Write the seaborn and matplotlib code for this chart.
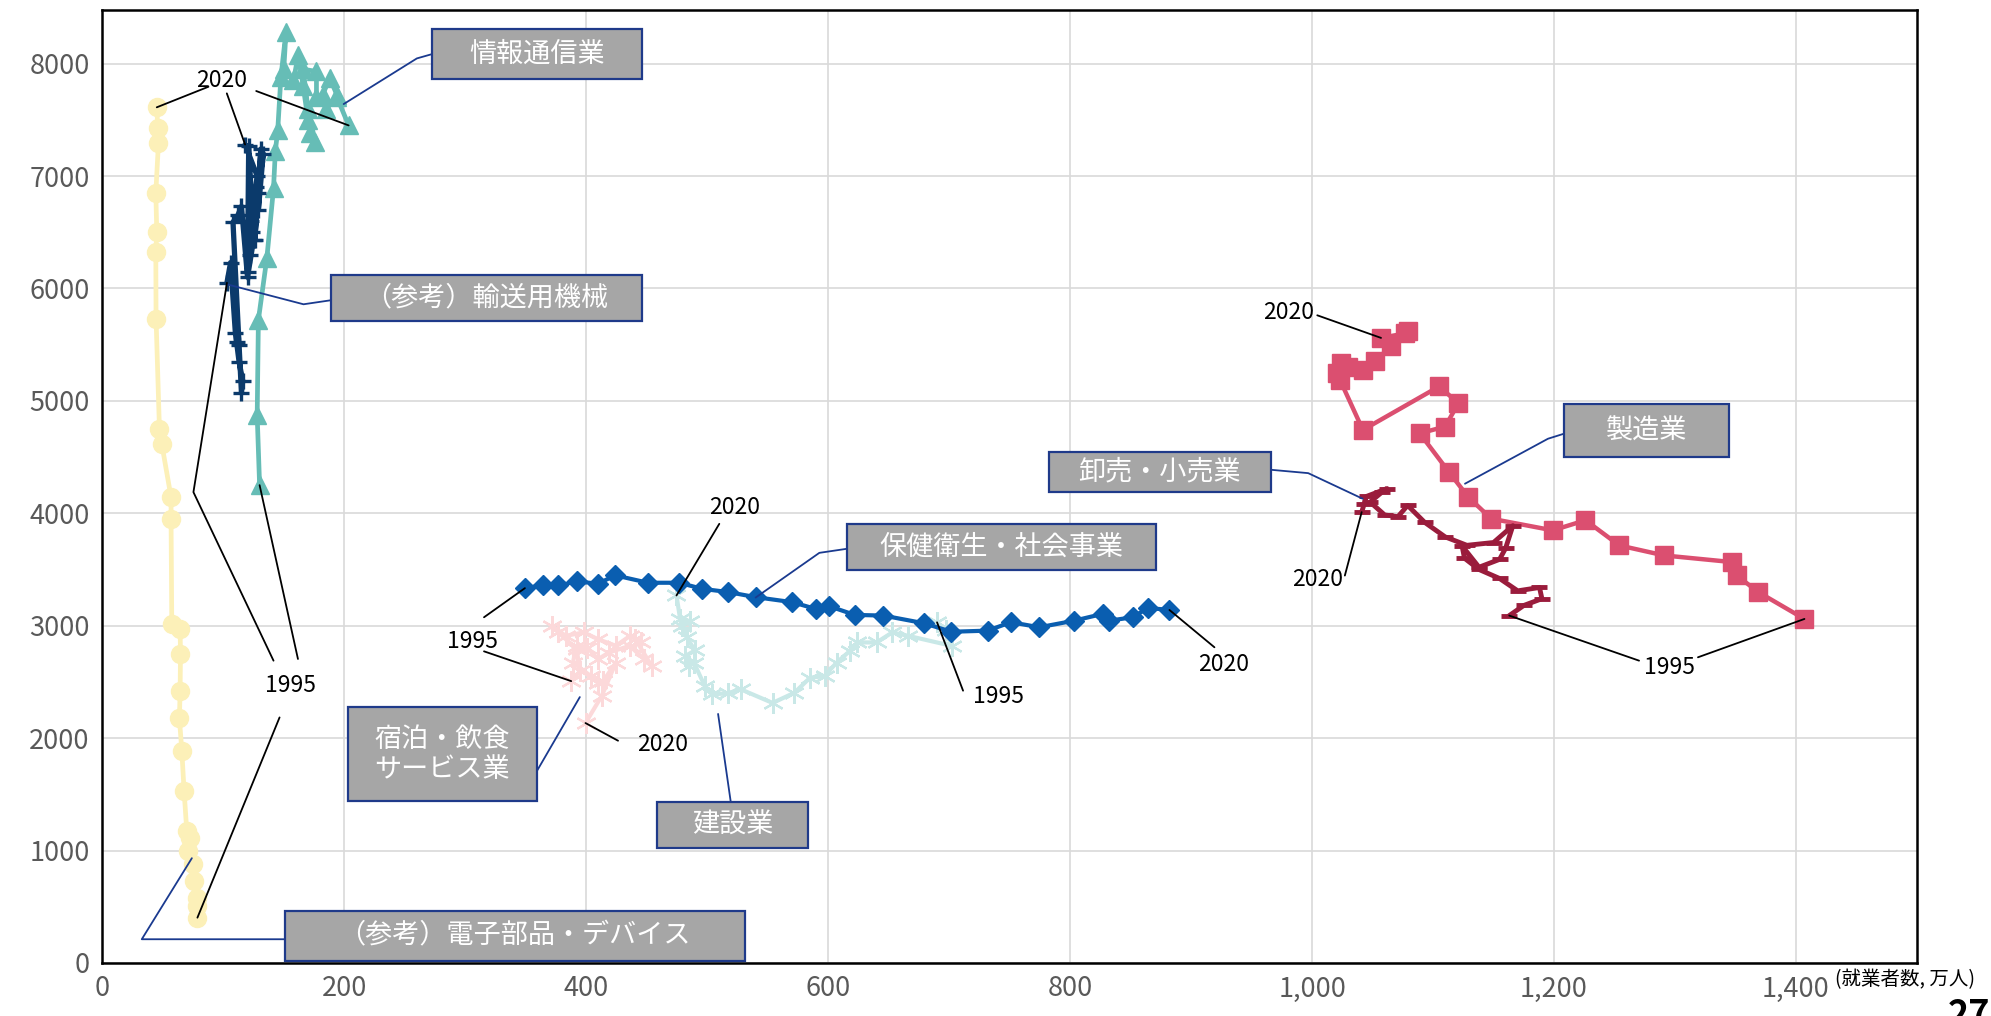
import numpy as np
import pandas as pd
import matplotlib
matplotlib.use("Agg")
import matplotlib.pyplot as plt
import seaborn as sns
from matplotlib.patches import Rectangle
from matplotlib.ticker import FuncFormatter

# 就業者数(万人) と 労働生産性 の推移 1995 -> 2020
# (参考)電子部品・デバイス
elec_x = [78.6, 78.1, 78.1, 75.9, 75.3, 71.2, 72.6, 69.8, 67.6, 65.7, 63.7, 64.3, 64.6,
          64.3, 57.4, 56.8, 56.8, 49.1, 47.2, 44.4, 44.2, 45.0, 44.2, 46.4, 45.8, 45.0]
elec_y = [403, 508, 582, 730, 879, 997, 1116, 1175, 1526, 1888, 2176, 2422, 2749,
          2971, 3016, 3945, 4143, 4619, 4752, 5732, 6325, 6503, 6851, 7296, 7429, 7611]

# 情報通信業
info_x = [130, 128, 129, 136, 141.5, 143, 145, 147.6, 151.8, 150, 158, 162, 166,
          170, 172, 176, 170, 166, 177, 177, 182, 188, 194, 185, 194, 203.6]
info_y = [4250, 4870, 5720, 6270, 6890, 7220, 7410, 7880, 8280, 7950, 7850, 8080, 7800,
          7500, 7380, 7300, 7600, 7950, 7930, 7700, 7720, 7870, 7720, 7600, 7700, 7450]

# (参考)輸送用機械
trans_x = [103, 106, 110, 111, 113, 116, 115, 113, 108, 112, 115, 120, 125,
           121, 120, 124, 129, 126, 131, 129, 133, 122, 127, 123, 128, 118]
trans_y = [6050, 6230, 5600, 5520, 5350, 5180, 5070, 5500, 6590, 6650, 6730, 6100, 6430,
           7270, 6150, 6500, 6850, 6430, 7240, 6700, 7200, 6300, 6900, 6600, 7000, 7280]

# 建設業
cons_x = [690, 697, 702, 666, 653, 640, 624, 618, 607, 597, 585, 572, 554,
          528, 517, 504, 498, 489, 485, 482, 490, 483, 479, 486, 477.6, 474.6]
cons_y = [3030, 2960, 2821, 2910, 2940, 2851, 2851, 2776, 2672, 2552, 2537, 2403, 2313,
          2433, 2400, 2388, 2463, 2672, 2642, 2731, 2780, 2896, 3000, 3040, 3060, 3269]

# 宿泊・飲食サービス業
accom_x = [387.6, 395, 392, 377, 371.4, 383, 398, 409.7, 424.5, 436.3, 445, 440.7, 454,
           448, 436, 418.6, 409.7, 401, 392, 389, 403.8, 409.7, 414, 424.5, 412.7, 399.4]
accom_y = [2507, 2597, 2791, 2940, 3000, 2910, 2940, 2880, 2821, 2910, 2851, 2880, 2642,
           2701, 2821, 2761, 2701, 2806, 2821, 2672, 2552, 2493, 2507, 2672, 2373, 2134]

# 保健衛生・社会事業
health_x = [349.3, 364, 376.7, 392.6, 409.7, 423.9, 451, 476.7, 495.9, 517.4, 540, 570.5, 589.7, 600.9,
            622, 645.7, 679.6, 701.8, 731.8, 751.1, 774.5, 803.5, 826.9, 832.4, 851.8, 864.2, 882.1]
health_y = [3334, 3358, 3358, 3394, 3373, 3448, 3382, 3382, 3328, 3299, 3254, 3209, 3149, 3173,
            3096, 3090, 3021, 2946, 2956, 3031, 2986, 3045, 3105, 3045, 3075, 3158, 3140]

# 製造業
manu_x = [1407, 1369, 1351, 1347, 1291, 1254, 1226, 1199, 1148, 1129, 1113, 1089, 1110,
          1121, 1105, 1042, 1023, 1021, 1024, 1030, 1042, 1052, 1065, 1079, 1077, 1057]
manu_y = [3060, 3298, 3447, 3566, 3625, 3714, 3938, 3848, 3952, 4146, 4369, 4711, 4771,
          4979, 5128, 4741, 5188, 5247, 5336, 5300, 5277, 5351, 5485, 5619, 5600, 5560]

# 卸売・小売業
whole_x = [1163, 1175, 1190, 1188, 1170, 1155, 1138, 1126, 1124, 1138, 1155, 1160, 1166,
           1150, 1128, 1110, 1093, 1079, 1071, 1060, 1048, 1058, 1062, 1045, 1043, 1041]
whole_y = [3090, 3180, 3240, 3340, 3310, 3420, 3500, 3600, 3710, 3520, 3590, 3690, 3890,
           3740, 3715, 3790, 3920, 4070, 3970, 3985, 4100, 4190, 4220, 4150, 4080, 4010]

x_ticks = list(range(0, 1401, 200))
y_ticks = list(range(0, 8001, 1000))

sns.set_style("white")
plt.rcParams["font.family"] = ["Noto Sans CJK JP", "DejaVu Sans"]

fig, ax = plt.subplots(figsize=(19.91, 10.16), dpi=100)
ax.set_position([0.0514, 0.0522, 0.9114, 0.9380])

# series styles: (x, y, color, marker, markersize, linewidth, mew)
series = {
    "elec": (elec_x, elec_y, "#FCF0B8", "o", 13, 3.4, 1),
    "info": (info_x, info_y, "#66BDB6", "^", 13, 3.4, 1),
    "trans": (trans_x, trans_y, "#0B3A6B", "+", 12, 3.8, 2.4),
    "cons": (cons_x, cons_y, "#C9E8E7", (6, 2, 0), 15, 3.0, 1.6),
    "accom": (accom_x, accom_y, "#FCD9DA", (6, 2, 0), 15, 3.0, 1.6),
    "health": (health_x, health_y, "#0A5EB0", "D", 10, 3.0, 1),
    "manu": (manu_x, manu_y, "#DB4F70", "s", 13, 3.2, 1),
    "whole": (whole_x, whole_y, "#9A1C3C", "_", 11, 3.5, 3.5),
}

for key, (xs, ys, col, mk, ms, lw, mew) in series.items():
    sns.lineplot(x=xs, y=ys, sort=False, estimator=None, errorbar=None, ax=ax,
                 color=col, lw=lw, marker=mk, markersize=ms,
                 markeredgecolor=col, markerfacecolor=col, markeredgewidth=mew, zorder=3)

ax.set_xlim(0, 1500)
ax.set_ylim(0, 8477)
ax.set_xticks(x_ticks)
ax.set_yticks(y_ticks)
ax.xaxis.set_major_formatter(FuncFormatter(lambda v, p: f"{int(v):,}"))
ax.tick_params(length=0, labelsize=19.5, colors="#595959", pad=9)
ax.grid(True, color="#D9D9D9", lw=1.2)
ax.set_axisbelow(True)
for s in ax.spines.values():
    s.set_color("black")
    s.set_linewidth(1.8)
ax.set_xlabel("")
ax.set_ylabel("")

# callout boxes: label, (x0, y0, x1, y1), leader path (point -> elbow -> box)
callouts = [
    ("情報通信業", (272.8, 7863, 445.8, 8308), [(199.5, 7640), (260, 8046), (272.8, 8085)]),
    ("（参考）輸送用機械", (189, 5711, 445.8, 6118), [(102.9, 6037), (166.3, 5859), (189, 5895)]),
    ("製造業", (1208.3, 4497, 1344.5, 4969), [(1126.4, 4263), (1195, 4663), (1208.3, 4708)]),
    ("卸売・小売業", (782.5, 4188, 965.9, 4544), [(1041.9, 4129), (996.8, 4357), (965.9, 4387)]),
    ("保健衛生・社会事業", (615.4, 3491, 871.1, 3906), [(540, 3250), (592.7, 3648), (615.4, 3684)]),
    ("宿泊・飲食\nサービス業", (202.7, 1443, 359.2, 2273), [(394.7, 2365), (359.2, 1707)]),
    ("建設業", (458.7, 1024, 583.7, 1430), [(509, 2215), (519.5, 1430)]),
    ("（参考）電子部品・デバイス", (150.8, 18, 531.2, 458), [(74, 932), (32.6, 211), (150.8, 211)]),
]
for label, (x0, y0, x1, y1), path in callouts:
    px, py = zip(*path)
    ax.plot(px, py, color="#1A3A8F", lw=1.3, zorder=4)
    ax.add_patch(Rectangle((x0, y0), x1 - x0, y1 - y0, facecolor="#A6A6A6",
                           edgecolor="#1F3A8A", lw=1.6, zorder=5))
    ax.text((x0 + x1) / 2, (y0 + y1) / 2, label, color="white", fontsize=19.5,
            ha="center", va="center", zorder=6, linespacing=1.15)

# year labels: text, position, leaders (start, [elbow], series end)
year_labels = [
    ("2020", (98.8, 7847), [[(87.7, 7794), ("elec", -1)], [(102.9, 7735), ("trans", -1)],
                            [(127.2, 7756), ("info", -1)]]),
    ("1995", (155.9, 2467), [[(141.5, 2689), (75.3, 4188), ("trans", 0)],
                             [(161.7, 2704), ("info", 0)], [(146.5, 2184), ("elec", 0)]]),
    ("2020", (523, 4054), [[(510, 3906), ("cons", -1)]]),
    ("1995", (306, 2861), [[(315.5, 3075), ("health", 0)], [(315.5, 2772), ("accom", 0)]]),
    ("2020", (463, 1947), [[(426.3, 1977), ("accom", -1)]]),
    ("1995", (740.4, 2369), [[(711.5, 2422), ("cons", 0)]]),
    ("2020", (926.8, 2654), [[(919.3, 2808), ("health", -1)]]),
    ("2020", (980.7, 5782), [[(1004.3, 5761), ("manu", -1)]]),
    ("2020", (1004.3, 3408), [[(1027.1, 3446), ("whole", -1)]]),
    ("1995", (1295.5, 2627), [[(1270.3, 2689), ("whole", 0)], [(1319, 2719), ("manu", 0)]]),
]
for txt, (tx, ty), leaders in year_labels:
    ax.text(tx, ty, txt, fontsize=16.5, color="black", ha="center", va="center", zorder=6)
    for ld in leaders:
        key, idx = ld[-1]
        pts = list(ld[:-1]) + [(series[key][0][idx], series[key][1][idx])]
        lx, ly = zip(*pts)
        ax.plot(lx, ly, color="black", lw=1.3, zorder=4)

fig.text(1835 / 1991, 0.036, "(就業者数, 万人)", fontsize=14, color="black", ha="left", va="center")
fig.text(1948 / 1991, 0.019, "27", fontsize=26, fontweight="bold", color="black", ha="left", va="top")

fig.savefig("out.png", dpi=100)
